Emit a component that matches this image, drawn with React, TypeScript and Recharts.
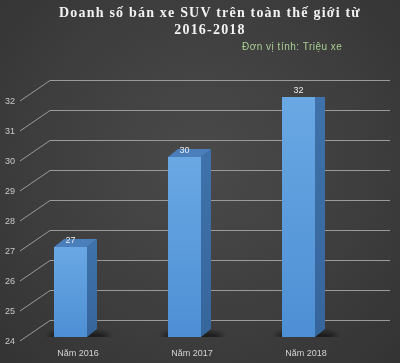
import { Bar, BarChart, CartesianGrid, LabelList, XAxis, YAxis } from 'recharts'

const years = ['Năm 2016', 'Năm 2017', 'Năm 2018']
const sales = [27, 30, 32]
const yTicks = [24, 25, 26, 27, 28, 29, 30, 31, 32]

const chartTitle = ['Doanh số bán xe SUV trên toàn thế giới từ', '2016-2018']
const unitNote = 'Đơn vị tính: Triệu xe'

const data = years.map((year, i) => ({ year, sales: sales[i] }))

const DEPTH_X = 10
const DEPTH_Y = 8

function Column3D(props: any) {
  const { x, y, width, height } = props
  if (height == null || height <= 0) return null
  const bottom = y + height
  return (
    <g>
      <ellipse
        cx={x + width / 2 + 8}
        cy={bottom - 1}
        rx={width / 2 + 14}
        ry={5}
        fill="#111"
        opacity={0.7}
        filter="url(#shadowBlur)"
      />
      <polygon
        points={`${x + width},${y} ${x + width + DEPTH_X},${y - DEPTH_Y} ${x + width + DEPTH_X},${bottom - DEPTH_Y} ${x + width},${bottom}`}
        fill="url(#sideFill)"
      />
      <polygon
        points={`${x},${y} ${x + DEPTH_X},${y - DEPTH_Y} ${x + width + DEPTH_X},${y - DEPTH_Y} ${x + width},${y}`}
        fill="#4a7fbc"
      />
      <rect x={x} y={y} width={width} height={height} fill="url(#frontFill)" />
    </g>
  )
}

function WallLine(props: any) {
  const { y1 } = props
  const fy = y1 + 4
  const by = y1 - 16.5
  return (
    <polyline
      points={`20,${fy} 50,${by} 390,${by}`}
      fill="none"
      stroke="#9a9a9a"
      strokeWidth={1}
    />
  )
}

function YTick(props: any) {
  const { y, payload } = props
  return (
    <text x={15} y={y + 7} textAnchor="end" fill="#c8c8c8" fontSize={9} fontFamily="Liberation Sans, Arial, sans-serif">
      {payload.value}
    </text>
  )
}

function XTick(props: any) {
  const { x, payload } = props
  return (
    <text x={x + 8} y={356} textAnchor="middle" fill="#d4d4d4" fontSize={9} fontFamily="Liberation Sans, Arial, sans-serif">
      {payload.value}
    </text>
  )
}

export default function App() {
  return (
    <div
      style={{
        position: 'fixed',
        left: 0,
        top: 0,
        width: 400,
        height: 363,
        background: 'radial-gradient(ellipse at 50% 45%, #4a4a4a 0%, #3d3d3d 60%, #333333 100%)',
        overflow: 'hidden',
      }}
    >
      <div
        style={{
          position: 'absolute',
          left: 10,
          top: 4,
          width: 400,
          textAlign: 'center',
          color: '#f2f2f2',
          fontFamily: '"Liberation Serif", "Times New Roman", serif',
          fontWeight: 'bold',
          fontSize: 14,
          letterSpacing: 1.2,
          lineHeight: '17px',
        }}
      >
        <div>{chartTitle[0]}</div>
        <div>{chartTitle[1]}</div>
      </div>
      <div
        style={{
          position: 'absolute',
          left: 242,
          top: 41,
          color: '#a9cf94',
          fontFamily: '"Liberation Sans", Arial, sans-serif',
          fontSize: 10,
          letterSpacing: 0.5,
          whiteSpace: 'nowrap',
        }}
      >
        {unitNote}
      </div>
      <BarChart
        width={400}
        height={363}
        data={data}
        margin={{ top: 97, right: 45, bottom: 0, left: 0 }}
        style={{ position: 'absolute', left: 0, top: 0 }}
      >
        <defs>
          <linearGradient id="frontFill" x1="0" y1="0" x2="0" y2="1">
            <stop offset="0%" stopColor="#6aa8e4" />
            <stop offset="100%" stopColor="#4d8fd4" />
          </linearGradient>
          <linearGradient id="sideFill" x1="0" y1="0" x2="0" y2="1">
            <stop offset="0%" stopColor="#3f72ab" />
            <stop offset="100%" stopColor="#36659b" />
          </linearGradient>
          <filter id="shadowBlur" x="-50%" y="-200%" width="200%" height="500%">
            <feGaussianBlur stdDeviation="2" />
          </filter>
        </defs>
        <CartesianGrid vertical={false} horizontal={(p: any) => <WallLine key={p.key} {...p} />} />
        <XAxis dataKey="year" axisLine={false} tickLine={false} height={26} tick={<XTick />} interval={0} />
        <YAxis
          domain={[24, 32]}
          ticks={yTicks}
          axisLine={false}
          tickLine={false}
          width={13}
          tick={<YTick />}
          allowDataOverflow
        />
        <Bar dataKey="sales" barSize={33} shape={<Column3D />} isAnimationActive={false}>
          <LabelList dataKey="sales" position="top" offset={4} fill="#ececec" fontSize={9} fontFamily="Liberation Sans, Arial, sans-serif" />
        </Bar>
      </BarChart>
    </div>
  )
}
